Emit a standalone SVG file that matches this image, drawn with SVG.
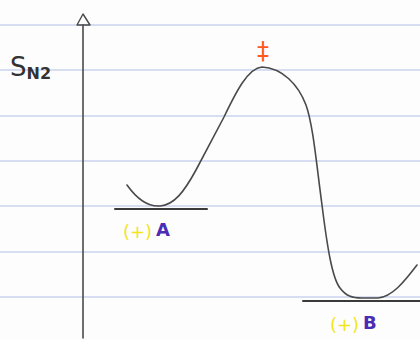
<svg xmlns="http://www.w3.org/2000/svg" width="420" height="340" viewBox="0 0 420 340">
  <style>
    .rule { stroke: #b4c0e6; stroke-width: 1.2; }
    .ink { fill: none; stroke: #4a4a4a; stroke-width: 1.6; stroke-linecap: round; stroke-linejoin: round; }
    .base { stroke: #3a3a3a; stroke-width: 2; stroke-linecap: round; }
    .hand { font-family: "DejaVu Sans", "Liberation Sans", sans-serif; }
    .yel { fill: #f2e51c; }
    .pur { fill: #4b2cb5; font-weight: bold; }
  </style>
  <rect width="420" height="340" fill="#fdfdfd"/>
  <g id="paper-lines">
    <line class="rule" x1="0" y1="25" x2="420" y2="25"/>
    <line class="rule" x1="0" y1="70" x2="420" y2="70"/>
    <line class="rule" x1="0" y1="116" x2="420" y2="116"/>
    <line class="rule" x1="0" y1="161" x2="420" y2="161"/>
    <line class="rule" x1="0" y1="206" x2="420" y2="206"/>
    <line class="rule" x1="0" y1="252" x2="420" y2="252"/>
    <line class="rule" x1="0" y1="297" x2="420" y2="297"/>
  </g>
  <g id="axis">
    <line class="ink" x1="83" y1="25" x2="83" y2="338" stroke-width="1.4"/>
    <polygon points="83,14 77,25 90,25" fill="none" stroke="#4a4a4a" stroke-width="1.4" stroke-linejoin="round"/>
  </g>
  <g id="title">
    <text class="hand" x="10" y="76" font-size="26" fill="#333">S<tspan font-size="16" font-weight="bold" dy="3">N2</tspan></text>
  </g>
  <g id="energy-curve">
    <path class="ink" d="M127,185 C137,199 147,207 160,206 C174,205 184,192 196,170 L224,117 C236,92 248,68 262,67 C282,68 298,84 306,105 C313,125 316,160 322,205 C327,245 332,278 340,288 C346,296 352,298 362,298 L378,298 C392,297 404,282 417,265"/>
  </g>
  <g id="level-A">
    <line class="base" x1="115" y1="209" x2="207" y2="209"/>
  </g>
  <g id="level-B">
    <line class="base" x1="303" y1="301" x2="420" y2="301"/>
  </g>
  <g id="labels">
    <text class="hand" x="263" y="59" font-size="24" fill="#ff5a1e" text-anchor="middle">‡</text>
    <text class="hand yel" x="123" y="238" font-size="18">(+)</text>
    <text class="hand pur" x="156" y="236" font-size="18">A</text>
    <text class="hand yel" x="330" y="331" font-size="18">(+)</text>
    <text class="hand pur" x="363" y="329" font-size="18">B</text>
  </g>
</svg>
